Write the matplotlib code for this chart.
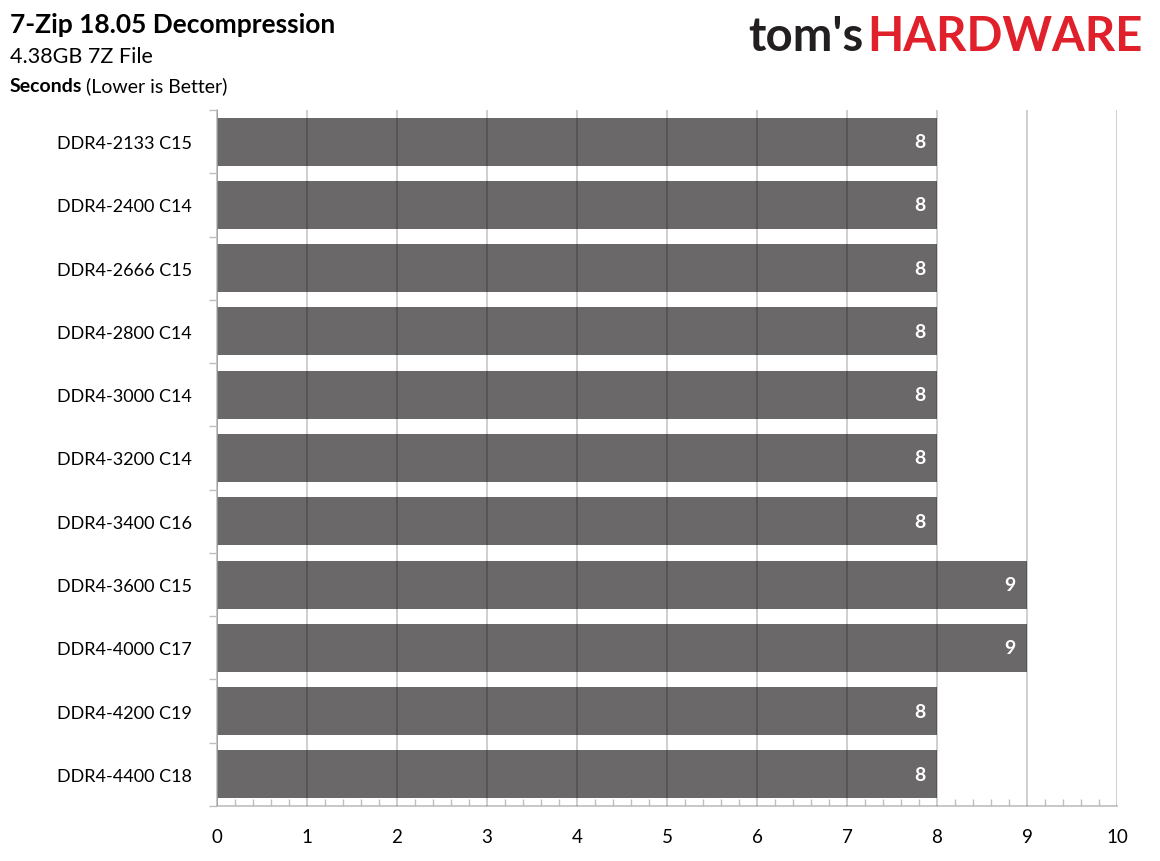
import numpy as np
import matplotlib.pyplot as plt
from matplotlib.ticker import MultipleLocator

plt.rcParams['font.family'] = ['Lato', 'DejaVu Sans']

# data
configs = ['DDR4-2133 C15', 'DDR4-2400 C14', 'DDR4-2666 C15', 'DDR4-2800 C14',
           'DDR4-3000 C14', 'DDR4-3200 C14', 'DDR4-3400 C16', 'DDR4-3600 C15',
           'DDR4-4000 C17', 'DDR4-4200 C19', 'DDR4-4400 C18']
seconds = [8, 8, 8, 8, 8, 8, 8, 9, 9, 8, 8]

W, H = 1160, 862
fig = plt.figure(figsize=(W / 100, H / 100), dpi=100)
ax = fig.add_axes([217 / W, 1 - 807 / H, 900 / W, 696 / H])

ypos = np.arange(len(configs))
ax.barh(ypos, seconds, height=0.76, color='#6b6869', zorder=1)

ax.set_xlim(0, 10)
ax.set_ylim(len(configs) - 0.5, -0.5)
ax.set_yticks(ypos)
ax.set_yticklabels(configs, fontsize=13)
ax.set_yticks(np.arange(-0.5, len(configs), 1), minor=True)

ax.xaxis.set_major_locator(MultipleLocator(1))
ax.xaxis.set_minor_locator(MultipleLocator(0.2))
ax.tick_params(axis='x', which='major', direction='in', length=0, labelsize=13.5, pad=16)
ax.tick_params(axis='x', which='minor', direction='in', length=5, color='#bfbfbf', width=1)
ax.tick_params(axis='y', which='major', length=0, pad=18)
ax.tick_params(axis='y', which='minor', length=6, color='#bfbfbf', width=1)

ax.grid(axis='x', which='major', color='black', alpha=0.22, linewidth=1.2, zorder=2)
ax.set_axisbelow(False)
for s in ['top', 'right']:
    ax.spines[s].set_visible(False)
for s in ['left', 'bottom']:
    ax.spines[s].set_color('#bfbfbf')
    ax.spines[s].set_linewidth(1.2)

for y, v in zip(ypos, seconds):
    ax.annotate(str(v), (v, y), xytext=(-8, 0), textcoords='offset points',
                ha='right', va='center', color='white', fontsize=14,
                fontweight='bold', zorder=3)

fig.text(10 / W, 1 - 25 / H, '7-Zip 18.05 Decompression', fontsize=19,
         fontweight='bold', va='center', ha='left')
fig.text(10 / W, 1 - 57 / H, '4.38GB 7Z File', fontsize=15.5, va='center', ha='left')
t1 = fig.text(10 / W, 1 - 86 / H, 'Seconds', fontsize=14, fontweight='bold',
              va='center', ha='left')
fig.canvas.draw()
bb = t1.get_window_extent()
fig.text(bb.x1 / W + 4 / W, 1 - 86 / H, '(Lower is Better)', fontsize=14,
         va='center', ha='left')

# logo
lg = fig.text(1143 / W, 1 - 37 / H, 'HARDWARE', fontsize=34, fontweight='bold',
              color='#e0202a', va='center', ha='right')
fig.canvas.draw()
lb = lg.get_window_extent()
fig.text(lb.x0 / W - 4 / W, 1 - 37 / H, "tom's", fontsize=34, fontweight='bold',
         color='#231f20', va='center', ha='right')

fig.savefig('out.png', dpi=100)
